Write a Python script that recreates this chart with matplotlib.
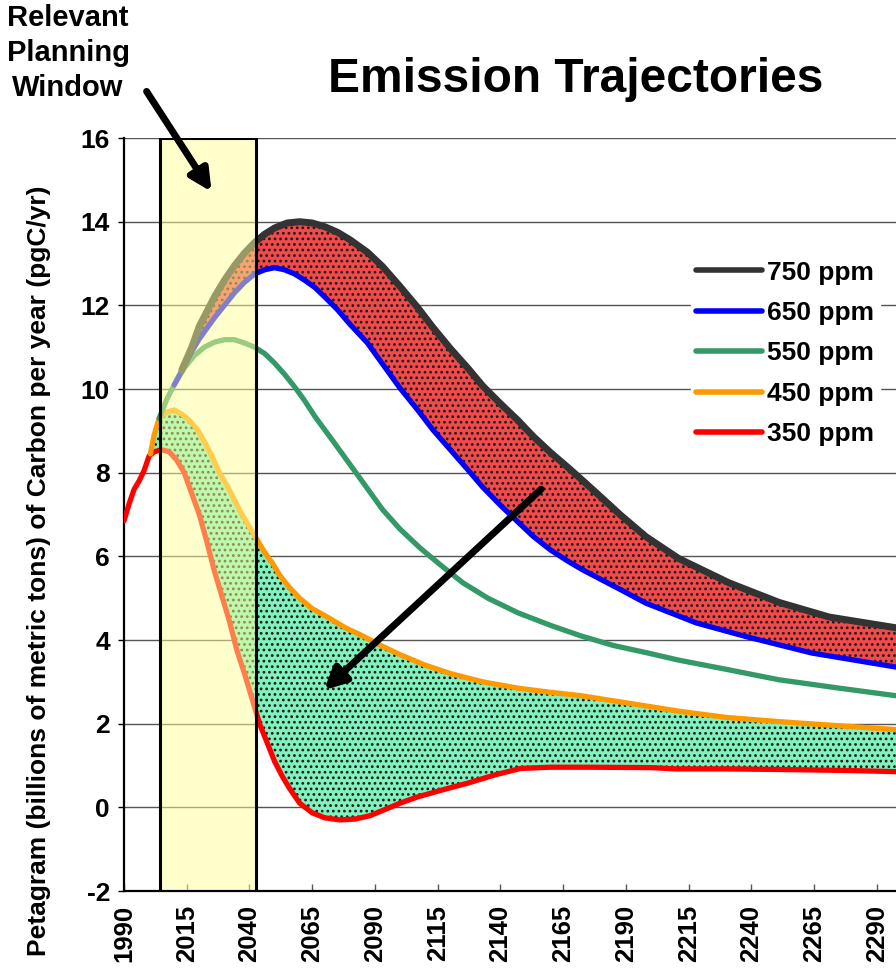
import numpy as np
import matplotlib
matplotlib.use("Agg")
import matplotlib.pyplot as plt
from matplotlib.patches import Rectangle

plt.rcParams['font.family'] = ['Liberation Sans', 'DejaVu Sans']
plt.rcParams['font.weight'] = 'bold'
plt.rcParams['hatch.linewidth'] = 1.2

# 350 ppm
years_350 = [1990, 1992, 1994, 1996, 1998, 2000, 2002, 2005, 2008, 2011, 2014, 2017, 2020,
             2023, 2026, 2029, 2032, 2035, 2038, 2041, 2044, 2047, 2050, 2053, 2056, 2060,
             2065, 2070, 2076, 2082, 2088, 2094, 2100, 2107, 2117, 2127, 2138, 2148, 2160,
             2175, 2200, 2210, 2230, 2258, 2280, 2300]
emis_350 = [6.85, 7.25, 7.6, 7.8, 8.05, 8.4, 8.5, 8.55, 8.5, 8.3, 8.0, 7.5, 7.0,
            6.35, 5.65, 5.05, 4.45, 3.75, 3.2, 2.6, 2.0, 1.55, 1.1, 0.75, 0.45, 0.1,
            -0.13, -0.25, -0.3, -0.28, -0.2, -0.05, 0.1, 0.25, 0.42, 0.58, 0.78, 0.93, 0.96,
            0.96, 0.95, 0.92, 0.92, 0.9, 0.88, 0.85]

# 450 ppm
years_450 = [2000.5, 2002, 2004, 2007, 2010, 2013, 2016, 2019, 2022, 2025, 2028, 2031, 2034,
             2037, 2040, 2043, 2046, 2049, 2052, 2056, 2060, 2065, 2071, 2078, 2085, 2093,
             2100, 2110, 2120, 2133, 2147, 2160, 2172, 2190, 2211, 2230, 2251, 2275, 2300]
emis_450 = [8.45, 8.9, 9.3, 9.45, 9.5, 9.4, 9.25, 9.05, 8.75, 8.4, 8.0, 7.7, 7.35,
            7.0, 6.7, 6.4, 6.1, 5.85, 5.55, 5.25, 5.0, 4.75, 4.55, 4.3, 4.1, 3.85,
            3.65, 3.4, 3.2, 3.0, 2.85, 2.75, 2.67, 2.5, 2.3, 2.15, 2.05, 1.95, 1.85]

# 550 ppm
years_550 = [2004, 2007, 2010, 2014, 2018, 2022, 2026, 2030, 2034, 2038, 2042, 2046, 2050,
             2054, 2058, 2062, 2066, 2073, 2080, 2087, 2093, 2100, 2108, 2116, 2125, 2135,
             2147, 2160, 2172, 2185, 2198, 2211, 2230, 2251, 2275, 2300]
emis_550 = [9.3, 9.75, 10.1, 10.5, 10.8, 11.0, 11.12, 11.18, 11.18, 11.1, 11.0, 10.85, 10.62,
            10.35, 10.05, 9.72, 9.35, 8.78, 8.2, 7.62, 7.12, 6.65, 6.2, 5.8, 5.37, 5.0,
            4.65, 4.35, 4.1, 3.87, 3.7, 3.52, 3.3, 3.05, 2.85, 2.65]

# 650 ppm
years_650 = [2010, 2014, 2017, 2020, 2023, 2026, 2030, 2034, 2038, 2042, 2046, 2050, 2054,
             2058, 2062, 2066, 2070, 2075, 2080, 2087, 2093, 2100, 2107, 2113, 2120, 2127,
             2133, 2140, 2147, 2153, 2160, 2167, 2173, 2180, 2188, 2198, 2218, 2238, 2264, 2300]
emis_650 = [10.1, 10.55, 10.9, 11.2, 11.45, 11.7, 12.0, 12.3, 12.55, 12.75, 12.85, 12.9, 12.85,
            12.75, 12.6, 12.43, 12.2, 11.9, 11.55, 11.1, 10.6, 10.02, 9.5, 9.03, 8.55, 8.07,
            7.65, 7.22, 6.82, 6.48, 6.15, 5.88, 5.67, 5.45, 5.2, 4.88, 4.41, 4.08, 3.69, 3.33]

# 750 ppm
years_750 = [2013, 2017, 2020, 2023, 2026, 2030, 2034, 2038, 2042, 2046, 2050, 2055, 2060,
             2065, 2070, 2075, 2080, 2087, 2093, 2100, 2107, 2113, 2120, 2127, 2133, 2140,
             2147, 2153, 2160, 2167, 2173, 2180, 2188, 2198, 2211, 2231, 2251, 2271, 2300]
emis_750 = [10.45, 11.0, 11.5, 11.85, 12.2, 12.6, 12.95, 13.25, 13.5, 13.7, 13.85, 13.97, 14.0,
            13.97, 13.88, 13.75, 13.57, 13.27, 12.93, 12.45, 11.95, 11.48, 10.97, 10.5, 10.07, 9.65,
            9.25, 8.87, 8.48, 8.12, 7.8, 7.42, 6.98, 6.47, 5.95, 5.37, 4.9, 4.55, 4.27]

labels = ["750 ppm", "650 ppm", "550 ppm", "450 ppm", "350 ppm"]
colors = ["#333333", "#0000ff", "#339966", "#ff9900", "#ff0000"]
x_ticks = list(range(1990, 2300, 25))
y_ticks = list(range(-2, 17, 2))
window = (2004.5, 2042.5)

fig = plt.figure(figsize=(8.96, 9.68), dpi=100)
ax = fig.add_axes([0.1384, 0.0795, 0.8683, 0.7779])

# shaded bands
ax.fill(np.concatenate([years_750, years_650[::-1]]),
        np.concatenate([emis_750, emis_650[::-1]]),
        facecolor="#f24a4a", edgecolor="#1a1a1a", hatch="...", lw=0, zorder=2)
ax.fill(np.concatenate([years_450, years_350[::-1]]),
        np.concatenate([emis_450, emis_350[::-1]]),
        facecolor="#80f2be", edgecolor="#1a1a1a", hatch="...", lw=0, zorder=2)

series = [(years_750, emis_750), (years_650, emis_650), (years_550, emis_550),
          (years_450, emis_450), (years_350, emis_350)]
# draw bottom scenario first so branches sit on top
for (xs, ys), lab, col in list(zip(series, labels, colors))[::-1]:
    lw = 5 if lab == "750 ppm" else 3.8
    ax.plot(xs, ys, color=col, lw=lw, label=lab, zorder=3, solid_capstyle="round")

# planning window
ax.add_patch(Rectangle((window[0], -2), window[1] - window[0], 18,
                       facecolor=(1, 1, 0.6, 0.5), edgecolor="black", lw=2.2, zorder=5))

ax.set_xlim(1990, 2300)
ax.set_ylim(-2, 16)
ax.set_xticks(x_ticks)
ax.set_xticklabels([str(t) for t in x_ticks], rotation=90, fontsize=18.5, fontweight="bold")
ax.set_yticks(y_ticks)
ax.set_yticklabels([str(t) for t in y_ticks], fontsize=19, fontweight="bold")
ax.tick_params(axis="x", direction="in", length=5, width=1, pad=10, color="#555555")
ax.tick_params(axis="y", direction="out", length=4, width=1, pad=6)
ax.grid(axis="y", color="#555555", lw=1, zorder=1)
ax.set_axisbelow(True)
for s in ["top", "right"]:
    ax.spines[s].set_visible(False)
for s in ["left", "bottom"]:
    ax.spines[s].set_linewidth(1.6)

handles, labs = ax.get_legend_handles_labels()
order = [labs.index(l) for l in labels]
leg = ax.legend([handles[i] for i in order], labels, loc="center",
                bbox_to_anchor=(0.85, 0.714), frameon=True, fancybox=False,
                facecolor="white", edgecolor="white", framealpha=1,
                prop={"size": 19, "weight": "bold"}, handlelength=2.5,
                handletextpad=0.2, labelspacing=0.62, borderpad=0.2)
leg.set_zorder(6)
for h in leg.get_lines():
    h.set_linewidth(4)

# arrows
ax.annotate("", xy=(2025.5, 14.66), xytext=(1998.4, 17.17), annotation_clip=False,
            arrowprops=dict(arrowstyle="-|>", color="black", lw=5, mutation_scale=32),
            zorder=7)
ax.annotate("", xy=(2068.9, 2.76), xytext=(2157, 7.65),
            arrowprops=dict(arrowstyle="-|>", color="black", lw=5, mutation_scale=32),
            zorder=7)

fig.text(0.643, 0.918, "Emission Trajectories", ha="center", va="center",
         fontsize=34.5, fontweight="bold")
fig.text(0.076, 0.945, "Relevant\nPlanning\nWindow", ha="center", va="center",
         fontsize=21, fontweight="bold", linespacing=1.32)
fig.text(0.043, 0.41, "Petagram (billions of metric tons) of Carbon per year (pgC/yr)",
         rotation=90, ha="center", va="center", fontsize=19, fontweight="bold")

fig.savefig("out.png", dpi=100)
